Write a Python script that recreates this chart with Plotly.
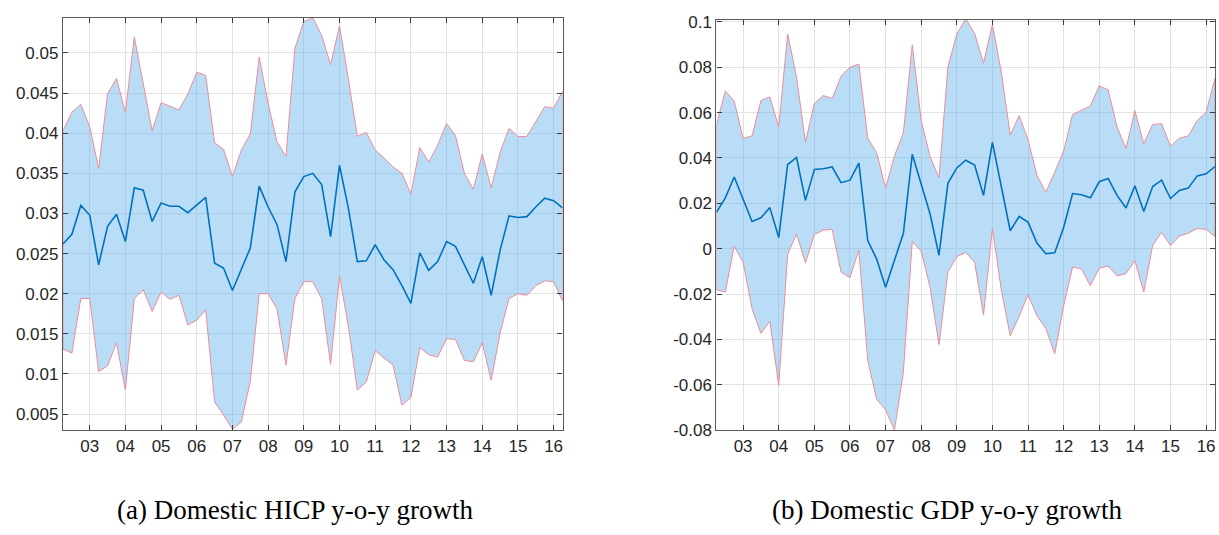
import plotly.graph_objects as go

# quarterly dates 2002Q2 .. 2016Q2 (decimal years)
quarters = [2002.25 + 0.25 * i for i in range(57)]

# ---- Panel (a): Domestic HICP y-o-y growth ----
hicp_upper = [0.0403, 0.0426, 0.0436, 0.0408, 0.0356, 0.0449, 0.0468, 0.0426, 0.0520, 0.0463,
              0.0403, 0.0438, 0.0433, 0.0429, 0.0449, 0.0476, 0.0472, 0.0388, 0.0380, 0.0346,
              0.0379, 0.0399, 0.0495, 0.0437, 0.0389, 0.0371, 0.0506, 0.0539, 0.0544, 0.0522,
              0.0485, 0.0534, 0.0467, 0.0396, 0.0401, 0.0379, 0.0369, 0.0358, 0.0350, 0.0324,
              0.0382, 0.0364, 0.0385, 0.0412, 0.0397, 0.0350, 0.0330, 0.0374, 0.0332, 0.0376,
              0.0406, 0.0396, 0.0396, 0.0415, 0.0433, 0.0431, 0.0452]
hicp_median = [0.0262, 0.0274, 0.0310, 0.0298, 0.0236, 0.0284, 0.0299, 0.0265, 0.0332, 0.0329,
               0.0290, 0.0313, 0.0309, 0.0309, 0.0301, 0.0310, 0.0320, 0.0238, 0.0232, 0.0204,
               0.0231, 0.0257, 0.0334, 0.0308, 0.0286, 0.0240, 0.0327, 0.0346, 0.0350, 0.0336,
               0.0271, 0.0360, 0.0306, 0.0240, 0.0241, 0.0261, 0.0242, 0.0230, 0.0210, 0.0188,
               0.0251, 0.0229, 0.0240, 0.0265, 0.0259, 0.0237, 0.0213, 0.0246, 0.0198, 0.0254,
               0.0297, 0.0295, 0.0296, 0.0308, 0.0319, 0.0316, 0.0307]
hicp_lower = [0.0131, 0.0126, 0.0194, 0.0194, 0.0103, 0.0110, 0.0139, 0.0080, 0.0194, 0.0205,
              0.0178, 0.0202, 0.0193, 0.0198, 0.0161, 0.0167, 0.0180, 0.0065, 0.0049, 0.0031,
              0.0040, 0.0091, 0.0200, 0.0200, 0.0181, 0.0111, 0.0194, 0.0215, 0.0215, 0.0194,
              0.0112, 0.0222, 0.0159, 0.0080, 0.0090, 0.0129, 0.0120, 0.0111, 0.0061, 0.0071,
              0.0133, 0.0124, 0.0121, 0.0144, 0.0143, 0.0117, 0.0115, 0.0139, 0.0092, 0.0151,
              0.0194, 0.0200, 0.0198, 0.0210, 0.0216, 0.0215, 0.0191]

# ---- Panel (b): Domestic GDP y-o-y growth ----
gdp_upper = [0.0544, 0.0696, 0.0650, 0.0486, 0.0497, 0.0653, 0.0669, 0.0537, 0.0946, 0.0757,
             0.0469, 0.0640, 0.0675, 0.0662, 0.0760, 0.0800, 0.0814, 0.0487, 0.0423, 0.0267,
             0.0409, 0.0511, 0.0899, 0.0565, 0.0406, 0.0313, 0.0800, 0.0946, 0.1013, 0.0949,
             0.0818, 0.0989, 0.0778, 0.0501, 0.0586, 0.0480, 0.0324, 0.0249, 0.0338, 0.0430,
             0.0591, 0.0611, 0.0629, 0.0718, 0.0700, 0.0537, 0.0441, 0.0608, 0.0463, 0.0548,
             0.0551, 0.0452, 0.0487, 0.0497, 0.0565, 0.0601, 0.0750]
gdp_median = [0.0160, 0.0224, 0.0316, 0.0214, 0.0120, 0.0136, 0.0181, 0.0049, 0.0371, 0.0402,
              0.0213, 0.0349, 0.0352, 0.0360, 0.0291, 0.0302, 0.0377, 0.0036, -0.0046, -0.0170,
              -0.0050, 0.0068, 0.0416, 0.0281, 0.0153, -0.0029, 0.0288, 0.0356, 0.0390, 0.0369,
              0.0235, 0.0469, 0.0274, 0.0079, 0.0142, 0.0117, 0.0025, -0.0022, -0.0018, 0.0093,
              0.0243, 0.0238, 0.0224, 0.0295, 0.0309, 0.0235, 0.0179, 0.0277, 0.0164, 0.0274,
              0.0302, 0.0221, 0.0257, 0.0267, 0.0321, 0.0330, 0.0362]
gdp_lower = [-0.0181, -0.0191, 0.0011, -0.0060, -0.0264, -0.0373, -0.0320, -0.0603, -0.0025, 0.0065,
             -0.0063, 0.0062, 0.0082, 0.0085, -0.0103, -0.0128, -0.0006, -0.0494, -0.0664, -0.0710,
             -0.0800, -0.0544, 0.0032, -0.0011, -0.0171, -0.0423, -0.0103, -0.0035, -0.0017, -0.0060,
             -0.0292, 0.0089, -0.0181, -0.0384, -0.0299, -0.0203, -0.0295, -0.0352, -0.0463, -0.0252,
             -0.0081, -0.0089, -0.0163, -0.0086, -0.0077, -0.0120, -0.0110, -0.0053, -0.0191, 0.0014,
             0.0072, 0.0014, 0.0056, 0.0068, 0.0089, 0.0085, 0.0053]

# axis ticks
year_ticks = list(range(2003, 2017))
year_labels = ["03", "04", "05", "06", "07", "08", "09", "10", "11", "12", "13", "14", "15", "16"]
hicp_yticks = [0.005, 0.01, 0.015, 0.02, 0.025, 0.03, 0.035, 0.04, 0.045, 0.05]
hicp_ylabels = ["0.005", "0.01", "0.015", "0.02", "0.025", "0.03", "0.035", "0.04", "0.045", "0.05"]
gdp_yticks = [-0.08, -0.06, -0.04, -0.02, 0, 0.02, 0.04, 0.06, 0.08, 0.1]
gdp_ylabels = ["-0.08", "-0.06", "-0.04", "-0.02", "0", "0.02", "0.04", "0.06", "0.08", "0.1"]
captions = ["(a) Domestic HICP y-o-y growth", "(b) Domestic GDP y-o-y growth"]

FILL = "rgba(100,180,235,0.45)"
EDGE = "rgb(236,140,152)"
MED = "rgb(0,114,189)"

fig = go.Figure()


def add_panel(upper, median, lower, xa, ya):
    poly_x = quarters + quarters[::-1] + [quarters[0]]
    poly_y = upper + lower[::-1] + [upper[0]]
    fig.add_trace(go.Scatter(x=poly_x, y=poly_y, mode="lines", fill="toself",
                             fillcolor=FILL, line=dict(color=EDGE, width=1),
                             xaxis=xa, yaxis=ya, showlegend=False, hoverinfo="skip"))
    fig.add_trace(go.Scatter(x=quarters, y=median, mode="lines",
                             line=dict(color=MED, width=1.6),
                             xaxis=xa, yaxis=ya, showlegend=False))


add_panel(hicp_upper, hicp_median, hicp_lower, "x", "y")
add_panel(gdp_upper, gdp_median, gdp_lower, "x2", "y2")

W, H = 1219, 535
axis_common = dict(showgrid=True, gridcolor="rgb(226,226,226)", gridwidth=1,
                   showline=True, linecolor="rgb(90,90,90)", linewidth=1.2, mirror="ticks",
                   ticks="inside", ticklen=5, tickcolor="rgb(60,60,60)",
                   tickfont=dict(family="Liberation Sans, Arial, sans-serif", size=17,
                                 color="rgb(38,38,38)"),
                   zeroline=False)

fig.update_layout(
    width=W, height=H,
    margin=dict(l=0, r=0, t=0, b=0),
    paper_bgcolor="white", plot_bgcolor="white",
    xaxis=dict(domain=[63 / W, 563 / W], range=[2002.25, 2016.25], anchor="y",
               tickvals=year_ticks, ticktext=year_labels, **axis_common),
    yaxis=dict(domain=[(H - 437) / H, (H - 11) / H], range=[0.003, 0.0544], anchor="x",
               tickvals=hicp_yticks, ticktext=hicp_ylabels, **axis_common),
    xaxis2=dict(domain=[717 / W, 1216 / W], range=[2002.25, 2016.25], anchor="y2",
                tickvals=year_ticks, ticktext=year_labels, **axis_common),
    yaxis2=dict(domain=[(H - 437) / H, (H - 13) / H], range=[-0.08, 0.101], anchor="x2",
                tickvals=gdp_yticks, ticktext=gdp_ylabels, **axis_common),
)

cap_font = dict(family="Liberation Serif, DejaVu Serif, serif", size=27, color="black")
fig.add_annotation(text=captions[0], x=295 / W, y=(H - 520) / H, xref="paper", yref="paper",
                   xanchor="center", yanchor="middle", showarrow=False, font=cap_font)
fig.add_annotation(text=captions[1], x=948 / W, y=(H - 520) / H, xref="paper", yref="paper",
                   xanchor="center", yanchor="middle", showarrow=False, font=cap_font)

fig.write_html("out.html", config={"displayModeBar": False},
               post_script="document.body.style.margin='0';document.body.style.overflow='hidden';")
